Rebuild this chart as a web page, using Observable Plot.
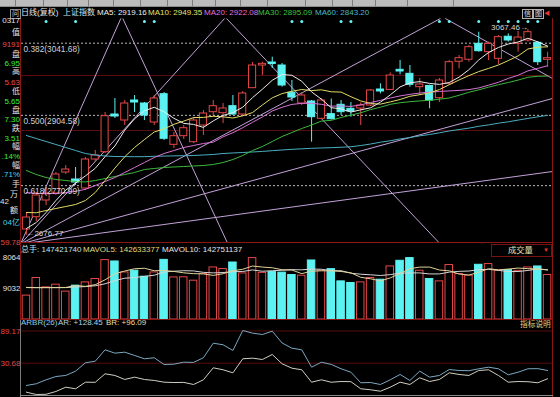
<!DOCTYPE html>
<html><head><meta charset="utf-8">
<script src="https://cdn.jsdelivr.net/npm/d3@7"></script>
<script src="https://cdn.jsdelivr.net/npm/@observablehq/plot@0.6"></script>
<style>
html,body{margin:0;padding:0;background:#000;}
#chart{position:relative;width:560px;height:397px;background:#000;overflow:hidden;font-family:"Liberation Sans","Noto Sans CJK SC",sans-serif;}
.t{position:absolute;white-space:nowrap;font-size:8px;}
.ln{position:absolute;}
</style></head><body><div id="chart"></div>
<script>
// ---------------- data ----------------
const open = [2687.7,2711.1,2742.8,2756.1,2796.0,2782.7,2765.6,2820.7,2834.6,2906.2,2894.8,2932.8,2927.1,2891.0,2944.8,2848.6,2865.0,2853.6,2885.3,2910.6,2908.7,2922.0,2906.2,2956.2,2999.3,3005.0,2999.3,2947.4,2927.1,2930.9,2898.0,2906.95,2924.6,2917.0,2917.6,2923.3,2953.7,2952.9,2991.1,2983.5,2958.1,2960.4,2937.2,2964.5,3006.5,3010.2,3040.5,3024.6,3012.0,3054.0,3040.5,3046.8,3042.4,3010.1];
const close = [2710.5,2752.3,2756.1,2792.2,2801.7,2777.0,2820.7,2828.3,2903.0,2902.4,2927.1,2929.0,2904.3,2936.6,2860.0,2865.0,2880.2,2894.8,2908.1,2922.0,2917.6,2906.2,2946.1,2999.3,3002.5,3002.2,2961.3,2938.5,2942.3,2901.1,2932.81,2897.30,2910.6,2911.9,2923.3,2951.8,2949.9,2980.3,2987.9,2962.6,2963.2,2932.8,2970.8,3005.6,3013.2,3034.1,3026.5,3040.5,3053.1,3046.8,3052.4,3062.6,3005.6,3013.2];
const high = [2718.1,2758.0,2765.6,2796.0,2809.3,2805.5,2824.5,2837.8,2910.0,2936.6,2932.8,2942.3,2929.0,2942.3,2948.0,2872.0,2885.3,2900.5,2913.8,2932.8,2927.1,2942.3,2949.9,3005.0,3005.6,3015.1,3003.1,2970.8,2948.0,2932.8,2936.6,2935.63,2932.8,2929.0,2928.5,2953.7,2964.5,2985.4,3008.8,2999.3,2974.6,2962.0,2974.6,3008.8,3018.3,3037.3,3062.6,3043.6,3056.3,3059.5,3063.9,3067.46,3044.9,3024.6];
const low = [2676.77,2702.9,2733.3,2752.3,2792.2,2771.3,2761.8,2815.0,2832.1,2898.6,2885.3,2910.0,2894.8,2885.3,2856.8,2841.6,2858.7,2851.1,2866.3,2904.3,2889.1,2904.3,2903.9,2955.6,2980.3,2993.6,2958.1,2930.9,2923.3,2853.6,2896.7,2895.65,2904.3,2901.1,2885.3,2921.4,2945.5,2951.8,2981.6,2958.1,2942.3,2917.1,2929.0,2961.3,2993.0,3005.6,3024.6,3008.8,3001.3,3043.6,3024.6,3043.6,2999.3,2996.1];

const ma5 = [2689.6,2701.0,2720.0,2742.8,2762.6,2775.9,2789.5,2804.0,2826.2,2846.4,2876.4,2898.0,2913.2,2919.9,2911.3,2899.0,2889.3,2887.4,2881.7,2894.0,2904.5,2909.8,2920.1,2938.3,2954.3,2971.2,2982.2,2980.7,2969.3,2949.1,2935.3,2919.16,2916.8,2910.8,2915.1,2918.9,2929.6,2943.4,2958.6,2966.4,2968.7,2965.3,2963.4,2967.0,2977.1,2991.3,3009.9,3024.0,3033.5,3040.2,3043.9,3051.2,3044.1,3036.2];
const ma10 = [2720.0,2719.5,2723.8,2727.6,2731.4,2735.2,2742.8,2758.0,2780.8,2804.4,2826.0,2843.7,2858.5,2873.0,2878.8,2887.6,2893.7,2900.3,2900.7,2902.8,2901.8,2899.5,2903.7,2910.0,2924.3,2937.9,2945.9,2950.3,2953.7,2951.6,2953.1,2949.35,2948.8,2940.0,2932.0,2927.1,2925.9,2930.1,2934.7,2940.8,2943.8,2947.4,2953.5,2962.8,2971.8,2980.1,2987.7,2993.8,3000.2,3008.6,3017.5,3030.7,3034.1,3034.8];
const ma20 = [2758.0,2756.4,2755.6,2756.2,2757.8,2760.2,2764.0,2771.3,2778.9,2786.5,2796.0,2805.5,2815.0,2824.5,2832.1,2837.8,2843.5,2847.3,2851.1,2853.6,2863.8,2871.6,2881.1,2891.4,2901.5,2912.9,2919.9,2925.4,2927.3,2927.5,2925.5,2922.08,2922.5,2921.5,2924.5,2929.0,2933.0,2937.5,2941.5,2944.5,2947.0,2948.5,2950.0,2951.0,2952.0,2953.5,2956.7,2961.9,2967.4,2974.8,2980.7,2989.1,2993.8,2998.9];
const ma30 = [2799.8,2792.2,2786.5,2782.7,2780.8,2778.9,2778.0,2780.8,2784.6,2788.4,2792.2,2796.0,2801.7,2803.6,2805.5,2806.5,2807.4,2808.4,2809.3,2811.2,2815.0,2820.7,2828.3,2837.8,2845.4,2854.9,2864.4,2872.0,2879.6,2886.3,2893.7,2895.09,2900.5,2905.0,2909.5,2915.5,2920.0,2925.5,2928.5,2930.5,2932.0,2933.0,2935.3,2937.6,2942.7,2948.4,2953.1,2958.1,2962.8,2967.0,2971.6,2976.9,2978.8,2979.2];
const ma60 = [2866.3,2860.6,2854.9,2849.2,2843.5,2837.8,2832.1,2829.3,2827.4,2826.4,2826.2,2826.0,2826.1,2826.8,2827.2,2827.6,2827.9,2828.3,2829.3,2830.2,2832.1,2833.1,2834.0,2835.0,2836.0,2837.5,2838.8,2840.0,2841.0,2842.0,2842.6,2843.2,2844.0,2845.0,2847.2,2850.1,2853.6,2856.3,2859.8,2862.4,2865.7,2868.2,2871.4,2874.9,2877.6,2880.3,2883.8,2886.4,2889.7,2892.3,2895.6,2898.7,2901.8,2904.6];

// volume in millions of hands
const volume = [69.9,121.5,94.1,102.0,81.6,99.1,108.7,118.6,173.9,169.9,137.8,142.8,125.3,137.8,174.6,123.2,123.6,113.6,133.1,152.4,147.7,166.9,134.9,179.8,136.5,138.9,137.2,130.2,128.2,172.8,142.8,147.42,111.6,106.9,108.7,121.5,116.5,155.3,171.9,179.8,142.8,118.6,111.6,159.4,133.1,128.2,160.2,162.3,142.8,144.8,142.5,152.4,155.3,130.2];
const mavol5 = [93.5,93.0,93.4,93.8,93.8,99.6,97.0,102.0,116.2,134.0,141.9,148.6,150.0,142.8,143.6,140.7,136.6,134.3,133.4,129.1,134.0,142.8,147.1,156.5,153.5,151.5,145.7,144.8,134.3,141.6,142.5,142.63,140.7,136.6,123.5,119.2,113.0,121.8,134.9,148.9,153.3,153.5,144.8,142.5,133.1,130.2,138.4,148.6,145.4,147.7,150.6,148.9,147.7,145.1];
const mavol10 = [94.0,93.6,93.3,93.1,93.4,95.2,96.3,98.8,104.5,113.9,120.9,122.9,126.2,129.7,139.0,141.3,142.8,142.2,138.1,136.4,137.5,139.8,140.7,145.1,141.3,142.8,144.2,146.0,145.4,147.7,147.1,142.75,142.8,135.5,132.6,130.8,128.8,131.4,135.8,136.4,136.4,133.4,133.4,138.7,141.0,141.9,146.0,146.8,143.9,140.4,140.4,143.6,148.3,145.4];

const ar = [90.2,93.3,100.5,106.5,108.4,116.2,131.4,134.3,155.0,148.9,150.7,144.7,138.7,140.5,128.3,128.9,132.5,132.1,140.5,167.0,164.1,153.8,190.1,185.2,182.8,188.8,167.4,157.9,155.0,123.4,132.5,128.45,120.5,114.3,95.1,95.6,92.0,100.5,110.2,99.3,116.2,105.3,108.4,119.2,117.4,117.0,120.5,123.4,120.5,109.6,114.3,120.5,120.8,117.4];
const br = [78.0,73.8,74.2,79.3,87.1,84.2,96.2,96.0,111.4,108.4,101.1,105.3,101.1,99.3,96.2,95.6,95.8,92.0,100.5,122.3,118.7,113.2,138.7,139.8,137.4,146.5,129.6,121.6,118.7,96.2,100.5,96.09,97.4,97.1,84.2,82.4,79.8,87.1,96.2,92.0,104.2,97.4,101.1,113.2,110.2,108.4,117.4,118.7,108.4,96.2,97.4,97.0,95.1,102.4];

const fibLevels = [3041.68, 2904.58, 2770.99];
const fibLabels = ["0.382(3041.68)", "0.500(2904.58)", "0.618(2770.99)"];
const priceGrid = [2980.3, 2875.8];
const priceAxisMin = 2659.78, priceAxisMinLabel = "59.78";
const highMark = {i: 51, p: 3067.46, label: "3067.46→"};
const lowMark = {i: 0, p: 2676.77, label: "←2676.77"};
const signalDays = [2,5,12,13,27,28,32,33,42,43,46,48,49,50,51,52];
// gann fan / angle lines: [day index, price] end points
const fanLines = [
  {x1:-0.6, y1:2660, x2:9.6,   y2:3088.6},
  {x1:9.8,  y1:3088.6, x2:20.5, y2:2660},
  {x1:-0.6, y1:2660, x2:20.15, y2:3088.6},
  {x1:20.35,y1:3088.6, x2:42.1, y2:2660},
  {x1:-0.6, y1:2660, x2:42.1,  y2:3088.6},
  {x1:42.6, y1:3088.6, x2:53.5, y2:2974.6},
  {x1:-0.6, y1:2660, x2:53.5,  y2:2936.6},
  {x1:-0.6, y1:2660, x2:53.5,  y2:2797.9}
];
const volTickValues = [180.64, 90.32];
const volTickLabels = ["8064", "9032"];
const arbrTickValues = [189.17, 130.68];
const arbrTickLabels = ["89.17", "30.68"];

const headerTexts = ["日线(复权)", "上证指数", "MA5: 2919.16", "MA10: 2949.35", "MA20: 2922.08", "MA30: 2895.09", "MA60: 2843.20"];
const volHeaderTexts = ["总手: 147421740", "MAVOL5: 142633377", "MAVOL10: 142751137"];
const arbrHeaderTexts = ["ARBR(26)", "AR: +128.45", "BR: +96.09"];
const infoTexts = ["0317","值","9191","盘","6.95","高","5.63","低","5.65","盘","7.30","跌","3.51","幅",".14%","幅",".71%","手","万","42","额","04亿"];

// ---------------- drawing ----------------
const RED = "#e44848", CYAN = "#5cf2f2", GRID = "#5a0c0c", BORDER = "#8a1616";
const FONT = '"Liberation Sans","Noto Sans CJK SC",sans-serif';
const root = document.getElementById("chart");

function addText(s, x, yc, color, opt = {}) {
  const el = document.createElement("div");
  el.className = "t";
  el.textContent = s;
  const fs = opt.size || 8;
  el.style.fontSize = fs + "px";
  el.style.lineHeight = (fs + 2) + "px";
  el.style.top = (yc - (fs + 2) / 2) + "px";
  if (opt.right != null) { el.style.right = (560 - opt.right) + "px"; el.style.textAlign = "right"; }
  else el.style.left = x + "px";
  el.style.color = color;
  if (opt.css) Object.assign(el.style, opt.css);
  root.appendChild(el);
  return el;
}
function addLine(x, y, w, h, color) {
  const el = document.createElement("div");
  el.className = "ln";
  Object.assign(el.style, {left: x + "px", top: y + "px", width: w + "px", height: h + "px", background: color});
  root.appendChild(el);
}
function place(svg, top) {
  svg.style.position = "absolute";
  svg.style.left = "0px";
  svg.style.top = top + "px";
  root.appendChild(svg);
}

const candles = open.map((o, i) => ({i, o, c: close[i], h: high[i], l: low[i]}));
const ups = candles.filter(d => d.c >= d.o);
const downs = candles.filter(d => d.c < d.o);
const days = open.map((_, i) => i);
const W = 0.36;
const xScale = {domain: [-0.5, 53.5], axis: null};
const baseStyle = {background: "transparent", overflow: "visible", fontFamily: FONT, fontSize: "8px"};
const maSeries = [[ma60, "#4aaec2"], [ma30, "#3cb83c"], [ma20, "#d772d8"], [ma10, "#e2dc66"], [ma5, "#ececec"]];

const mainPlot = Plot.plot({
  width: 560, height: 245, marginLeft: 21, marginRight: 8, marginTop: 18, marginBottom: 2,
  x: xScale, y: {domain: [2661.1, 3088.6], axis: null}, style: baseStyle,
  marks: [
    Plot.ruleY(priceGrid, {stroke: GRID}),
    Plot.ruleY(fibLevels, {stroke: "#b8b8b8", strokeDasharray: "2,2"}),
    Plot.link(fanLines, {x1: "x1", y1: "y1", x2: "x2", y2: "y2", stroke: "#c2a2d8", strokeWidth: 1, clip: true}),
    Plot.ruleX(ups, {x: "i", y1: "c", y2: "h", stroke: RED}),
    Plot.ruleX(ups, {x: "i", y1: "l", y2: "o", stroke: RED}),
    Plot.ruleX(downs, {x: "i", y1: "o", y2: "h", stroke: CYAN}),
    Plot.ruleX(downs, {x: "i", y1: "l", y2: "c", stroke: CYAN}),
    Plot.rect(ups, {x1: d => d.i - W, x2: d => d.i + W, y1: "o", y2: "c", fill: "#000", stroke: RED}),
    Plot.rect(downs, {x1: d => d.i - W, x2: d => d.i + W, y1: "o", y2: "c", fill: CYAN, stroke: CYAN}),
    ...maSeries.map(([s, col]) => Plot.line(days, {x: i => i, y: i => s[i], stroke: col, strokeWidth: 1, clip: true})),
    Plot.text(fibLevels, {y: d => d, text: (d, i) => fibLabels[i], frameAnchor: "left", textAnchor: "start", dx: 2, dy: 6, fill: "#d2d2d2", fontSize: 8.3}),
    Plot.dot(signalDays, {x: d => d, frameAnchor: "top", dy: 3, r: 1.5, fill: "#6cf2f2"}),
    Plot.text([highMark], {x: "i", y: "p", text: "label", textAnchor: "end", dy: -2, fill: "#d8d8d8", fontSize: 8}),
    Plot.text([lowMark], {x: "i", y: "p", text: "label", textAnchor: "start", dy: -1.5, fill: "#d8d8d8", fontSize: 8}),
    Plot.text([priceAxisMin], {y: d => d, text: [priceAxisMinLabel], frameAnchor: "left", textAnchor: "end", dx: -1, dy: -1.5, fill: RED, fontSize: 8})
  ]
});
place(mainPlot, 0);

const vols = volume.map((v, i) => ({i, v, up: close[i] >= open[i]}));
const VW = 0.38;
const volPlot = Plot.plot({
  width: 560, height: 77, marginLeft: 21, marginRight: 8, marginTop: 2, marginBottom: 1,
  x: xScale, y: {domain: [0, 216.65], axis: null}, style: baseStyle,
  marks: [
    Plot.rect(vols.filter(d => d.up), {x1: d => d.i - VW, x2: d => d.i + VW, y1: 0, y2: "v", fill: "#000", stroke: RED}),
    Plot.rect(vols.filter(d => !d.up), {x1: d => d.i - VW, x2: d => d.i + VW, y1: 0, y2: "v", fill: CYAN, stroke: CYAN}),
    Plot.line(days, {x: i => i, y: i => mavol10[i], stroke: "#d6d6d6", strokeWidth: 1}),
    Plot.line(days, {x: i => i, y: i => mavol5[i], stroke: "#e0d49a", strokeWidth: 1}),
    Plot.text(volTickValues, {y: d => d, text: (d, i) => volTickLabels[i], frameAnchor: "left", textAnchor: "end", dx: -1, fill: "#e0e0e0", fontSize: 8})
  ]
});
place(volPlot, 243);

const arbrPlot = Plot.plot({
  width: 560, height: 77, marginLeft: 21, marginRight: 8, marginTop: 0, marginBottom: 2,
  x: xScale, y: {domain: [72.0, 208.2], axis: null}, style: baseStyle,
  marks: [
    Plot.ruleY(arbrTickValues, {stroke: GRID}),
    Plot.line(days, {x: i => i, y: i => br[i], stroke: "#cfcfc2", strokeWidth: 1}),
    Plot.line(days, {x: i => i, y: i => ar[i], stroke: "#7aa8c2", strokeWidth: 1}),
    Plot.text(arbrTickValues, {y: d => d, text: (d, i) => arbrTickLabels[i], frameAnchor: "left", textAnchor: "end", dx: -1, fill: RED, fontSize: 8})
  ]
});
place(arbrPlot, 320);

// ---- panel borders ----
addLine(20, 18, 1, 302, BORDER);
addLine(20, 320, 1, 77, "#7a7a7a");
addLine(552, 18, 1, 379, BORDER);
addLine(20, 242, 533, 1, BORDER);
addLine(20, 319, 533, 1, BORDER);
addLine(20, 395, 533, 1, "#8a8a8a");

// ---- top toolbar ----
addLine(0, 0, 560, 7, "#bcbcbc");
[15, 43, 67, 88, 113, 140, 167, 192, 215, 240, 267, 305, 332, 352, 375, 407, 453].forEach(x => addLine(x, 0, 1, 6, "#7c7c7c"));
addLine(0, 6, 560, 1, "#8c8c8c");

// ---- header line ----
const hx = [21, 63, 97, 148, 204, 258, 315];
const hc = ["#e8e8e8", "#cfe4ee", "#ececec", "#e6e06c", "#e070dc", "#3fc23f", "#4cb8c8"];
headerTexts.forEach((s, i) => addText(s, hx[i], 13.3, hc[i]));
addText("问", 10, 13, "#d0d0d0", {size: 7, css: {border: "1px solid #8a8a8a", lineHeight: "8px", height: "8px", padding: "0 1px"}});
addText("信", 522, 13, "#e0e0e0", {size: 7, css: {border: "1px solid #b0b0b0", lineHeight: "8px", height: "8px", padding: "0 1px"}});
addText("图", 533, 13, "#e0e0e0", {size: 7, css: {border: "1px solid #b0b0b0", lineHeight: "8px", height: "8px", padding: "0 1px"}});
addText("◀", 544, 13, "#e83030", {size: 6});

// ---- left info column ----
const infoY = [21, 33, 45, 55, 63.5, 72, 82.5, 92, 102, 110.5, 119.5, 128.5, 138.5, 147, 157, 165.5, 174.5, 185, 195, 202, 211, 223];
const G = "#3cf03c", R = "#f04a4a", C = "#44d4f4", Wt = "#e0e0e0";
const infoC = [Wt, Wt, R, Wt, G, Wt, R, Wt, G, Wt, G, Wt, G, Wt, G, Wt, C, Wt, Wt, Wt, Wt, C];
infoTexts.forEach((s, i) => {
  if (s === "42") addText(s, 0, infoY[i], infoC[i]);
  else addText(s, 0, infoY[i], infoC[i], {right: (s === "万" || s === "额") ? 18 : 20});
});

// ---- volume header ----
const vx = [21, 83, 162], vc = ["#bfe4ee", "#e2dc7c", "#e6e6e6"];
volHeaderTexts.forEach((s, i) => addText(s, vx[i], 250, vc[i]));
const box = document.createElement("div");
Object.assign(box.style, {position: "absolute", left: "491px", top: "244px", width: "59px", height: "11px", border: "1px solid #7a1212", background: "#000"});
root.appendChild(box);
addText("成交量", 508, 250, "#ece6b4", {size: 8.3});
addText("▼", 543, 250, "#e83030", {size: 6});

// ---- ARBR header ----
const ax = [21, 58, 106], ac = ["#8ccfe0", "#a8d6e6", "#e6dea6"];
arbrHeaderTexts.forEach((s, i) => addText(s, ax[i], 323, ac[i]));
addText("指标说明", 520, 325, "#e8d27a", {size: 7.7});
</script></body></html>
